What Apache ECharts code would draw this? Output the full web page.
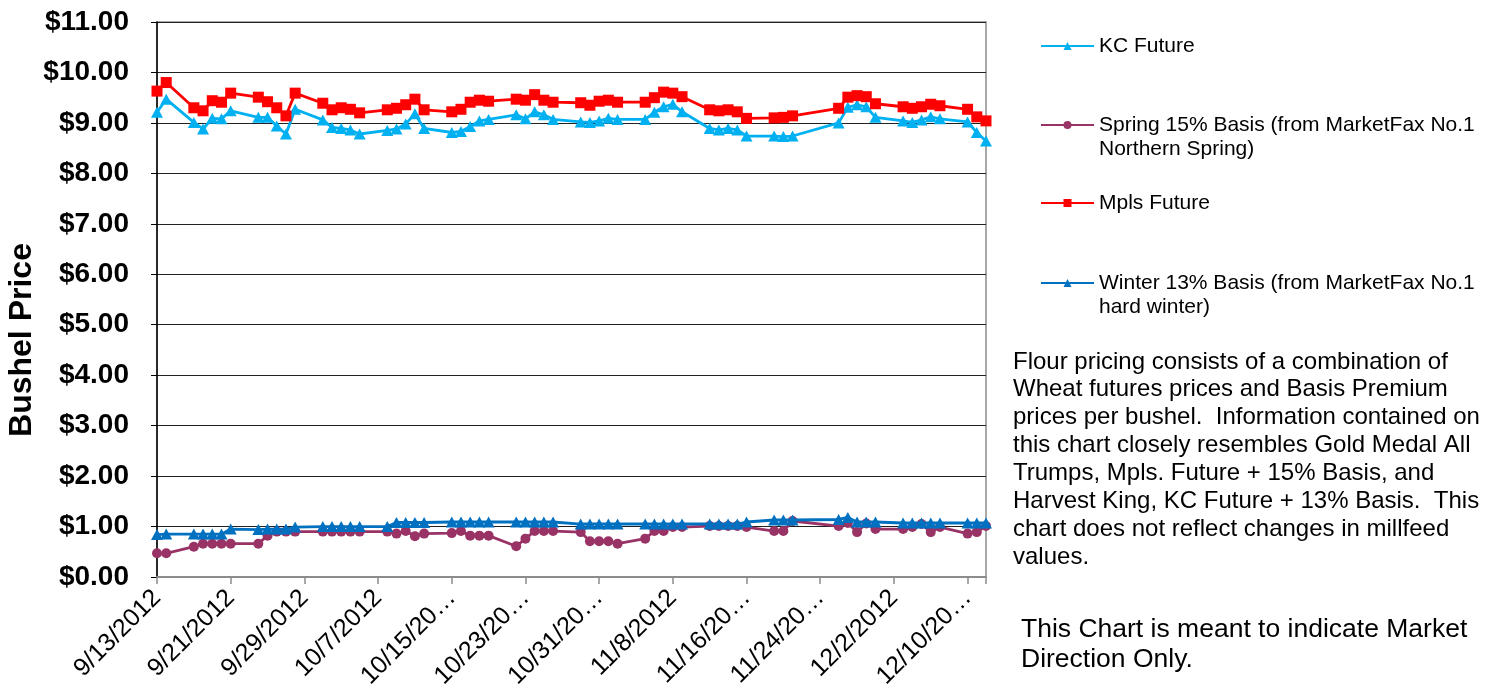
<!DOCTYPE html>
<html>
<head>
<meta charset="utf-8">
<script src="https://cdn.jsdelivr.net/npm/echarts@6/dist/echarts.min.js"></script>
<style>
  html, body { margin: 0; padding: 0; background: #fff; }
  #chart { width: 1496px; height: 692px; }
</style>
</head>
<body>
<div id="chart"></div>
<script>
// Trading days (2012) shown on the chart
const dates = [
  '9/13','9/14','9/17','9/18','9/19','9/20','9/21','9/24','9/25','9/26','9/27','9/28',
  '10/1','10/2','10/3','10/4','10/5','10/8','10/9','10/10','10/11','10/12',
  '10/15','10/16','10/17','10/18','10/19','10/22','10/23','10/24','10/25','10/26',
  '10/29','10/30','10/31','11/1','11/2','11/5','11/6','11/7','11/8','11/9',
  '11/12','11/13','11/14','11/15','11/16','11/19','11/20','11/21',
  '11/26','11/27','11/28','11/29','11/30','12/3','12/4','12/5','12/6','12/7',
  '12/10','12/11','12/12'
];

const kcFuture = [
  9.21, 9.47, 9.01, 8.88, 9.09, 9.08, 9.24, 9.11, 9.11, 8.94, 8.78, 9.27,
  9.06, 8.91, 8.89, 8.86, 8.78, 8.85, 8.88, 8.98, 9.18, 8.89,
  8.81, 8.83, 8.93, 9.04, 9.07, 9.16, 9.08, 9.22, 9.16, 9.07,
  9.02, 9.01, 9.04, 9.09, 9.07, 9.07, 9.21, 9.32, 9.37, 9.22,
  8.89, 8.86, 8.89, 8.86, 8.74, 8.74, 8.73, 8.74,
  9.00, 9.31, 9.36, 9.32, 9.11, 9.04, 9.01, 9.06, 9.12, 9.08,
  9.02, 8.81, 8.64
];

const springBasis = [
  0.47, 0.47, 0.60, 0.66, 0.66, 0.66, 0.66, 0.66, 0.82, 0.90, 0.90, 0.90,
  0.90, 0.90, 0.90, 0.90, 0.90, 0.90, 0.86, 0.91, 0.81, 0.86,
  0.87, 0.91, 0.82, 0.82, 0.82, 0.61, 0.76, 0.91, 0.91, 0.91,
  0.89, 0.71, 0.71, 0.71, 0.66, 0.76, 0.91, 0.91, 0.99, 0.99,
  1.01, 1.01, 1.01, 1.01, 0.99, 0.91, 0.91, 1.11,
  1.01, 1.07, 0.89, 1.06, 0.95, 0.95, 0.99, 1.05, 0.89, 0.99,
  0.86, 0.89, 1.01
];

const mplsFuture = [
  9.63, 9.80, 9.30, 9.24, 9.44, 9.41, 9.59, 9.51, 9.42, 9.30, 9.14, 9.59,
  9.39, 9.26, 9.30, 9.27, 9.20, 9.26, 9.29, 9.36, 9.47, 9.26,
  9.22, 9.27, 9.41, 9.45, 9.43, 9.47, 9.45, 9.56, 9.45, 9.41,
  9.40, 9.35, 9.43, 9.45, 9.41, 9.41, 9.50, 9.61, 9.59, 9.52,
  9.26, 9.24, 9.26, 9.22, 9.09, 9.10, 9.11, 9.14,
  9.29, 9.51, 9.54, 9.52, 9.38, 9.32, 9.29, 9.32, 9.37, 9.34,
  9.27, 9.12, 9.04
];

const winterBasis = [
  0.84, 0.85, 0.85, 0.85, 0.85, 0.85, 0.95, 0.94, 0.95, 0.95, 0.95, 0.99,
  1.00, 1.00, 1.00, 1.00, 1.00, 1.00, 1.08, 1.08, 1.08, 1.08,
  1.09, 1.09, 1.09, 1.09, 1.09, 1.09, 1.09, 1.09, 1.09, 1.09,
  1.05, 1.05, 1.05, 1.05, 1.05, 1.05, 1.05, 1.05, 1.05, 1.05,
  1.05, 1.05, 1.05, 1.05, 1.09, 1.13, 1.13, 1.13,
  1.14, 1.18, 1.09, 1.09, 1.09, 1.07, 1.07, 1.07, 1.07, 1.07,
  1.07, 1.07, 1.07
];

// Date-axis tick labels, every 8 days from 9/13/2012
const xTickLabels = [
  '9/13/2012', '9/21/2012', '9/29/2012', '10/7/2012', '10/15/20…', '10/23/20…',
  '10/31/20…', '11/8/2012', '11/16/20…', '11/24/20…', '12/2/2012', '12/10/20…'
];

const seriesNames = [
  'KC Future',
  'Spring 15% Basis (from MarketFax No.1\nNorthern Spring)',
  'Mpls Future',
  'Winter 13% Basis (from MarketFax No.1\nhard winter)'
];

const yTitle = 'Bushel Price';
const noteText = 'Flour pricing consists of a combination of\nWheat futures prices and Basis Premium\nprices per bushel.  Information contained on\nthis chart closely resembles Gold Medal All\nTrumps, Mpls. Future + 15% Basis, and\nHarvest King, KC Future + 13% Basis.  This\nchart does not reflect changes in millfeed\nvalues.';
const directionText = 'This Chart is meant to indicate Market\nDirection Only.';

const FONT = '"Liberation Sans", Arial, sans-serif';
const DAY_MS = 86400000;
const startUTC = Date.UTC(2012, 8, 13);

// day offset from 9/13/2012
function dayOffset(md) {
  const [m, d] = md.split('/').map(Number);
  return Math.round((Date.UTC(2012, m - 1, d) - startUTC) / DAY_MS);
}
const xs = dates.map(dayOffset);
const pairs = vals => vals.map((v, i) => [xs[i], v]);

const chart = echarts.init(document.getElementById('chart'));

function lineSeries(name, vals, color, symbol, size, z) {
  return {
    name, type: 'line', data: pairs(vals), z,
    symbol, symbolSize: size,
    lineStyle: { color, width: 2.8 },
    itemStyle: { color, borderWidth: 0 },
    emphasis: { disabled: true },
    animation: false
  };
}

// one legend block per series; two-line names keep the marker beside the first line
function legendAt(name, iconY) {
  const twoLine = name.indexOf('\n') >= 0;
  const lh = 24.5;
  return {
    data: [name], left: 1040, top: iconY - (twoLine ? 1.5 * lh : 0.5 * lh),
    orient: 'vertical', padding: 0,
    itemWidth: 53, itemHeight: 10, selectedMode: false,
    formatter: n => (n.indexOf('\n') >= 0 ? ' \n' + n : n),
    textStyle: { fontFamily: FONT, fontSize: 21, color: '#000', lineHeight: lh }
  };
}

chart.setOption({
  backgroundColor: '#fff',
  animation: false,
  grid: {
    left: 157, right: 510, top: 22, bottom: 115,
    containLabel: false, outerBoundsMode: 'none',
    show: true, borderColor: '#8c8c8c', borderWidth: 1.5
  },
  xAxis: {
    type: 'value', min: 0, max: 90, interval: 8,
    axisLine: { show: true, lineStyle: { color: '#8c8c8c', width: 2 } },
    axisTick: { show: true, length: 7, lineStyle: { color: '#8c8c8c', width: 1.5 } },
    splitLine: { show: false },
    axisLabel: {
      rotate: 45, margin: 17, fontFamily: FONT, fontSize: 25, color: '#000',
      showMaxLabel: true,
      formatter: v => (v % 8 === 0 ? (xTickLabels[v / 8] || '') : '')
    }
  },
  yAxis: {
    type: 'value', min: 0, max: 11, interval: 1,
    axisLine: { show: true, lineStyle: { color: '#000', width: 1.5 } },
    axisTick: { show: true, length: 6, lineStyle: { color: '#000', width: 1 } },
    splitLine: { show: true, lineStyle: { color: '#222', width: 1.2 } },
    axisLabel: {
      margin: 28, fontFamily: FONT, fontSize: 28, fontWeight: 'bold', color: '#000',
      formatter: v => '$' + v.toFixed(2)
    }
  },
  legend: [
    legendAt(seriesNames[0], 46),
    legendAt(seriesNames[1], 125),
    legendAt(seriesNames[2], 203),
    legendAt(seriesNames[3], 283)
  ],
  graphic: [
    {
      type: 'text', x: 22, y: 340, rotation: Math.PI / 2,
      style: {
        text: yTitle, fontFamily: FONT, fontSize: 32, fontWeight: 'bold', fill: '#000',
        align: 'center', verticalAlign: 'middle'
      }
    },
    {
      type: 'text', left: 1013, top: 348,
      style: { text: noteText, fontFamily: FONT, fontSize: 24, lineHeight: 27.85, fill: '#000' }
    },
    {
      type: 'text', left: 1021, top: 615,
      style: { text: directionText, fontFamily: FONT, fontSize: 26.5, lineHeight: 30, fill: '#000' }
    }
  ],
  series: [
    lineSeries(seriesNames[0], kcFuture, '#00B0F0', 'triangle', [12, 11], 2),
    lineSeries(seriesNames[1], springBasis, '#993366', 'circle', 10, 3),
    lineSeries(seriesNames[2], mplsFuture, '#FF0000', 'rect', 11, 4),
    lineSeries(seriesNames[3], winterBasis, '#0070C0', 'triangle', [12, 11], 5)
  ]
});
</script>
</body>
</html>
